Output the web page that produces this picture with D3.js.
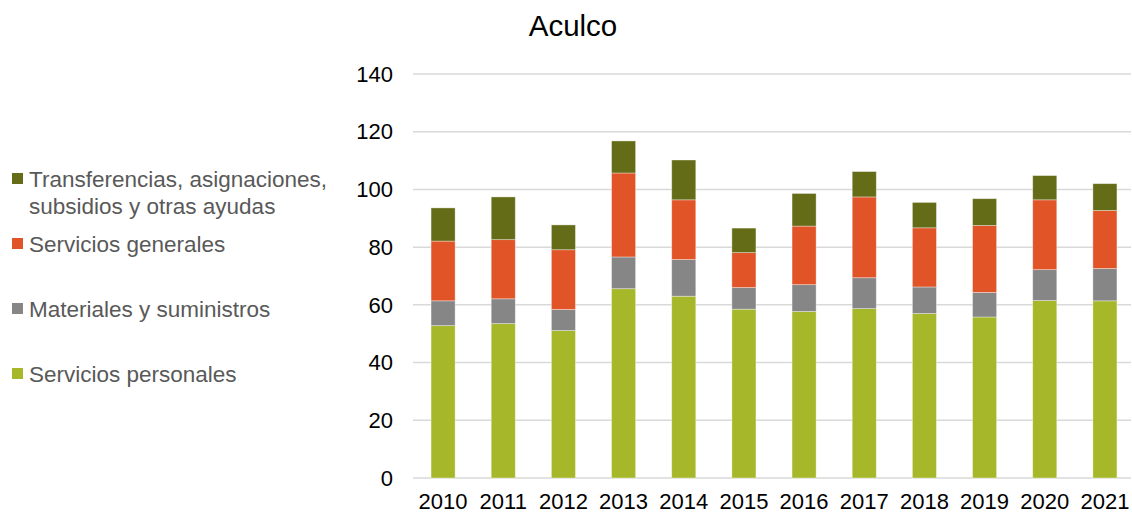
<!DOCTYPE html>
<html lang="es">
<head>
<meta charset="utf-8">
<title>Aculco</title>
<script src="https://d3js.org/d3.v7.min.js"></script>
<style>
  body { margin: 0; background: #fff; }
  svg { display: block; font-family: "Liberation Sans", Arial, sans-serif; }
</style>
</head>
<body>
<div id="chart"></div>
<script>
// datos (millones de pesos aprox.)
const years = ["2010","2011","2012","2013","2014","2015","2016","2017","2018","2019","2020","2021"];
const personales     = [52.8, 53.5, 51.1, 65.6, 63.0, 58.5, 57.7, 58.7, 57.0, 55.8, 61.5, 61.4];
const materiales     = [8.6, 8.6, 7.3, 11.0, 12.7, 7.5, 9.3, 10.7, 9.2, 8.5, 10.7, 11.2];
const generales      = [20.7, 20.5, 20.7, 29.1, 20.7, 12.1, 20.3, 28.0, 20.5, 23.2, 24.2, 20.1];
const transferencias = [11.5, 14.8, 8.6, 11.1, 13.8, 8.5, 11.3, 8.8, 8.8, 9.3, 8.4, 9.3];
const yTicks = [0, 20, 40, 60, 80, 100, 120, 140];

const seriesKeys = ["personales", "materiales", "generales", "transferencias"];
const seriesNames = {
  personales: ["Servicios personales"],
  materiales: ["Materiales y suministros"],
  generales: ["Servicios generales"],
  transferencias: ["Transferencias, asignaciones,", "subsidios y otras ayudas"]
};
const colors = {
  personales: "#a7b72a",
  materiales: "#868686",
  generales: "#e05427",
  transferencias: "#656c17"
};

const table = years.map((y, i) => ({
  year: y,
  personales: personales[i],
  materiales: materiales[i],
  generales: generales[i],
  transferencias: transferencias[i]
}));

const width = 1132, height = 514;

const svg = d3.select("#chart").append("svg")
    .attr("width", width)
    .attr("height", height);

const x = d3.scaleBand()
    .domain(years)
    .range([413, 1135])
    .paddingInner(0.6)
    .paddingOuter(0.3);

const y = d3.scaleLinear()
    .domain([0, 140])
    .range([478, 74]);

// gridlines
svg.append("g")
  .selectAll("line")
  .data(yTicks)
  .join("line")
    .attr("x1", 413)
    .attr("x2", 1131)
    .attr("y1", d => y(d))
    .attr("y2", d => y(d))
    .attr("stroke", "#d9d9d9")
    .attr("stroke-width", 1.5);

// y labels
svg.append("g")
  .selectAll("text")
  .data(yTicks)
  .join("text")
    .attr("x", 393)
    .attr("y", d => y(d))
    .attr("dy", "0.35em")
    .attr("text-anchor", "end")
    .attr("font-size", 22)
    .attr("fill", "#000")
    .text(d => d);

// x labels
svg.append("g")
  .selectAll("text")
  .data(years)
  .join("text")
    .attr("x", d => x(d) + x.bandwidth() / 2)
    .attr("y", 509)
    .attr("text-anchor", "middle")
    .attr("font-size", 22)
    .attr("fill", "#000")
    .text(d => d);

const stack = d3.stack().keys(seriesKeys)(table);

svg.append("g")
  .selectAll("g")
  .data(stack)
  .join("g")
    .attr("fill", d => colors[d.key])
  .selectAll("rect")
  .data(d => d)
  .join("rect")
    .attr("x", d => x(d.data.year))
    .attr("width", x.bandwidth())
    .attr("y", d => y(d[1]))
    .attr("height", d => y(d[0]) - y(d[1]))
    .attr("stroke", "#fff")
    .attr("stroke-opacity", 0.45)
    .attr("stroke-width", 0.8);

// title
svg.append("text")
    .attr("x", 573)
    .attr("y", 36)
    .attr("text-anchor", "middle")
    .attr("font-size", 29.5)
    .attr("fill", "#000")
    .text("Aculco");

// legend (top to bottom, reverse of stack order)
const legendRows = [
  { key: "transferencias", y: 187 },
  { key: "generales", y: 252 },
  { key: "materiales", y: 317 },
  { key: "personales", y: 382 }
];

const leg = svg.append("g")
  .selectAll("g")
  .data(legendRows)
  .join("g");

leg.append("rect")
    .attr("x", 12)
    .attr("y", d => d.y - 14)
    .attr("width", 11)
    .attr("height", 11)
    .attr("fill", d => colors[d.key]);

leg.append("text")
    .attr("font-size", 22.5)
    .attr("fill", "#595959")
  .selectAll("tspan")
  .data(d => seriesNames[d.key].map((t, i) => ({ t, i, y: d.y })))
  .join("tspan")
    .attr("x", 29)
    .attr("y", d => d.y + d.i * 26.5)
    .text(d => d.t);
</script>
</body>
</html>
